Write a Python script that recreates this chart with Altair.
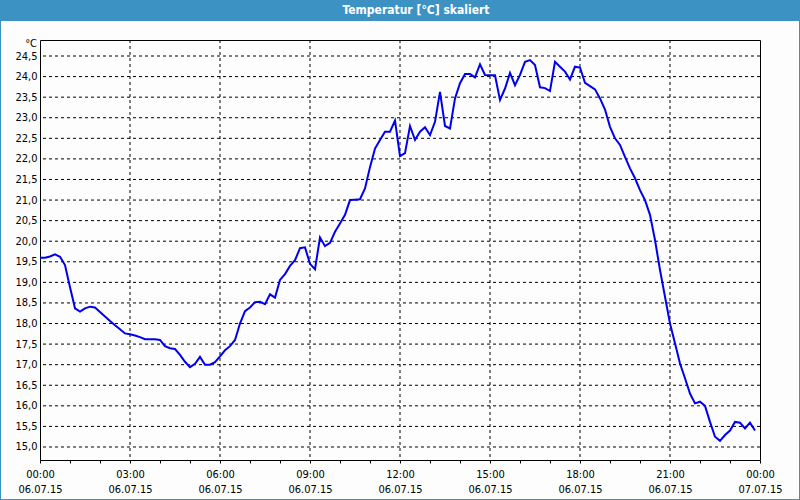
import altair as alt
import pandas as pd

# Temperature readings every 10 minutes, 06.07.15 00:00 .. 23:50
temps = [
    19.60, 19.60, 19.63, 19.68, 19.62, 19.42, 18.88, 18.37, 18.29, 18.37,
    18.41, 18.39, 18.28, 18.17, 18.06, 17.96, 17.86, 17.76, 17.74, 17.71,
    17.67, 17.62, 17.62, 17.62, 17.60, 17.45, 17.40, 17.38, 17.24, 17.07,
    16.94, 17.02, 17.19, 17.00, 17.00, 17.06, 17.20, 17.35, 17.45, 17.60,
    18.00, 18.30, 18.39, 18.52, 18.53, 18.47, 18.71, 18.63, 19.06, 19.20,
    19.40, 19.54, 19.83, 19.85, 19.45, 19.32, 20.09, 19.88, 19.96, 20.23,
    20.43, 20.64, 21.00, 21.01, 21.02, 21.28, 21.80, 22.25, 22.46, 22.66,
    22.66, 22.93, 22.07, 22.14, 22.80, 22.46, 22.66, 22.77, 22.58, 22.90,
    23.63, 22.80, 22.74, 23.47, 23.84, 24.06, 24.06, 23.98, 24.30, 24.04,
    24.03, 24.03, 23.43, 23.71, 24.09, 23.79, 24.04, 24.36, 24.40, 24.28,
    23.74, 23.72, 23.65, 24.36, 24.24, 24.12, 23.93, 24.24, 24.22, 23.85,
    23.77, 23.69, 23.47, 23.20, 22.78, 22.50, 22.34, 22.05, 21.77, 21.53,
    21.24, 21.00, 20.64, 20.03, 19.30, 18.65, 18.00, 17.52, 17.03, 16.67,
    16.30, 16.06, 16.10, 16.00, 15.61, 15.25, 15.15, 15.29, 15.40, 15.61,
    15.59, 15.45, 15.59, 15.40,
]
minutes = [10 * i for i in range(len(temps))]
hours = [m / 60 for m in minutes]

x_grid = [3, 6, 9, 12, 15, 18, 21]
x_ticks = list(range(0, 25))
y_vals = [15.0, 15.5, 16.0, 16.5, 17.0, 17.5, 18.0, 18.5, 19.0, 19.5,
          20.0, 20.5, 21.0, 21.5, 22.0, 22.5, 23.0, 23.5, 24.0, 24.5]

title_text = "Temperatur [°C] skaliert"
unit_text = "°C"
date1 = "06.07.15"
date2 = "07.07.15"

FONT = "DejaVu Sans Condensed"
BLUE_BAR = "#3d92c4"
LINE_BLUE = "#0000ee"

W, H = 720, 420
xs = alt.Scale(domain=[0, 24], nice=False, zero=False)
ys = alt.Scale(domain=[14.684, 24.889], nice=False, zero=False)

df = pd.DataFrame({"h": hours, "t": temps})

x_label_expr = (
    "datum.value % 3 == 0 ? "
    "(datum.value == 24 ? ['00:00', '" + date2 + "'] : "
    "[(datum.value < 10 ? '0' : '') + datum.value + ':00', '" + date1 + "']) : ''"
)

x_axis = alt.Axis(
    values=x_ticks, labelExpr=x_label_expr, title=None, grid=False,
    domain=False, ticks=True, tickSize=3, tickColor="black",
    labelOverlap=False, labelFlush=False, labelPadding=5,
    labelFont=FONT, labelFontSize=11, labelColor="black",
    labelLineHeight=15, labelBaseline="top")
y_axis = alt.Axis(
    values=y_vals,
    labelExpr="replace(format(datum.value, '.1f'), '.', ',')",
    title=None, grid=False, domain=False, ticks=False, labelPadding=3,
    labelFont=FONT, labelFontSize=11, labelColor="black")

xgrid = alt.Chart(pd.DataFrame({"h": x_grid})).mark_rule(
    color="black", strokeWidth=1, strokeDash=[3, 3]
).encode(x=alt.X("h:Q", scale=xs, axis=x_axis))

ygrid = alt.Chart(pd.DataFrame({"t": y_vals})).mark_rule(
    color="black", strokeWidth=1, strokeDash=[3, 3]
).encode(y=alt.Y("t:Q", scale=ys, axis=y_axis))

line = alt.Chart(df).mark_line(color=LINE_BLUE, strokeWidth=2).encode(
    x=alt.X("h:Q", scale=xs, axis=x_axis),
    y=alt.Y("t:Q", scale=ys, axis=y_axis),
)

one = alt.Data(values=[{}])

title_bar = alt.Chart(one).mark_rect(color=BLUE_BAR).encode(
    x=alt.value(-40), x2=alt.value(760), y=alt.value(-40), y2=alt.value(-19))
left_border = alt.Chart(one).mark_rect(color=BLUE_BAR).encode(
    x=alt.value(-40), x2=alt.value(-39), y=alt.value(-40), y2=alt.value(460))
right_border = alt.Chart(one).mark_rect(color=BLUE_BAR).encode(
    x=alt.value(759), x2=alt.value(760), y=alt.value(-40), y2=alt.value(460))
bottom_border = alt.Chart(one).mark_rect(color=BLUE_BAR).encode(
    x=alt.value(-40), x2=alt.value(760), y=alt.value(459), y2=alt.value(460))

title = alt.Chart(one).mark_text(
    font=FONT, fontSize=12, fontWeight="bold", color="white",
    align="center", baseline="middle"
).encode(x=alt.value(376), y=alt.value(-30), text=alt.value(title_text))

unit = alt.Chart(one).mark_text(
    font=FONT, fontSize=11, color="black", align="right", baseline="alphabetic"
).encode(x=alt.value(-3), y=alt.value(7), text=alt.value(unit_text))

chart = alt.layer(
    xgrid, ygrid, line, title_bar, left_border, right_border, bottom_border, title, unit
).properties(
    width=W, height=H,
    autosize=alt.AutoSizeParams(type="none"),
    padding={"left": 40, "top": 40, "right": 40, "bottom": 40},
    background="#fcfdfc",
).configure_view(stroke="black", strokeWidth=1)

chart.save("out.html", embed_options={"renderer": "svg", "actions": False})
